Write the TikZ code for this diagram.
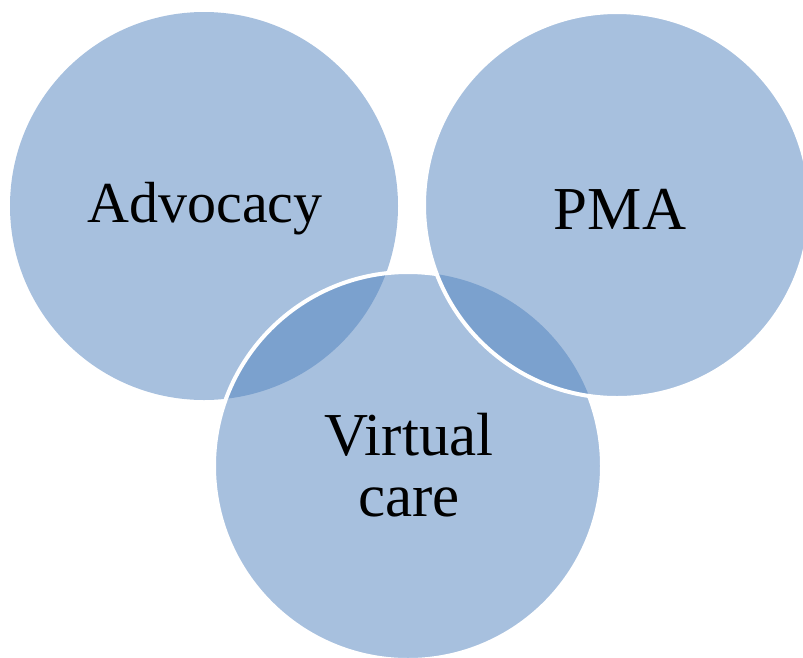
\documentclass[tikz,border=0pt]{standalone}
\usepackage{fontspec}
\setmainfont{Liberation Serif}
\definecolor{lightblue}{RGB}{167,192,222}
\definecolor{deepblue}{RGB}{123,161,206}
\usepackage{tikz}

\begin{document}
\begin{tikzpicture}[x=1pt,y=-1pt,label/.style={font=\fontsize{58}{60}\selectfont},
    biglabel/.style={font=\fontsize{61}{61}\selectfont}]
  \useasboundingbox (0,0) rectangle (803,657);
  \clip (0,0) rectangle (803,657);

  % advocacy
  \fill[lightblue] (204,206) circle (194);

  % virtual care on top of advocacy
  \fill[lightblue] (408,466) circle (194);
  \begin{scope}
    \clip (204,206) circle (194);
    \fill[deepblue] (408,466) circle (194);
  \end{scope}
  \draw[white, line width=4] (408,466) circle (194);

  % pma on top of virtual care
  \fill[lightblue] (617,205) circle (193);
  \begin{scope}
    \clip (408,466) circle (194);
    \fill[deepblue] (617,205) circle (193);
  \end{scope}
  \draw[white, line width=4] (617,205) circle (193);

  \node[label] (adv) at (205,209) {Advocacy};
  \node[biglabel] (pma) at (620,209) {PMA};
  \node[biglabel, align=center] (vc) at (409,465) {Virtual\\care};
\end{tikzpicture}
\end{document}
